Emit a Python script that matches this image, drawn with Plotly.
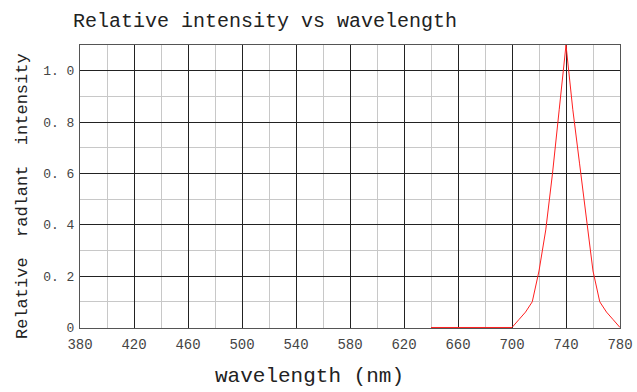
import plotly.graph_objects as go

wavelength = [640, 700, 705, 710, 715, 720, 725, 730, 735, 738, 740, 742, 745, 750, 755, 760, 765, 770, 775, 780]
intensity = [0, 0, 0.03, 0.06, 0.1, 0.22, 0.38, 0.6, 0.85, 1.0, 1.1, 1.0, 0.85, 0.64, 0.42, 0.22, 0.1, 0.06, 0.03, 0]

x_ticks = [380, 420, 460, 500, 540, 580, 620, 660, 700, 740, 780]
y_ticks = [0, 0.2, 0.4, 0.6, 0.8, 1.0]
y_tick_text = ["0", "0. 2", "0. 4", "0. 6", "0. 8", "1. 0"]

FONT = "Liberation Mono"
L, R, T, B = 80, 17, 45, 64
PW, PH = 637 - L - R, 392 - T - B

fig = go.Figure()
fig.add_trace(go.Scatter(x=wavelength, y=intensity, mode="lines",
                         line=dict(color="#ff2020", width=1), showlegend=False,
                         cliponaxis=False))

fig.update_layout(
    width=637, height=392,
    margin=dict(l=L, r=R, t=T, b=B, autoexpand=False),
    paper_bgcolor="white", plot_bgcolor="white",
    font=dict(family=FONT, color="#333"),
)
fig.update_xaxes(
    range=[380, 780], tickvals=x_ticks, ticktext=[str(v) for v in x_ticks],
    showgrid=True, gridcolor="#222", gridwidth=1,
    minor=dict(dtick=20, tick0=380, showgrid=True, gridcolor="#c8c8c8", gridwidth=1),
    showline=True, linecolor="#555", linewidth=1, mirror=True, layer="below traces",
    ticks="", tickfont=dict(family=FONT, size=14, color="#444"), zeroline=False,
    automargin=False, ticklabelstandoff=3,
)
fig.update_yaxes(
    range=[-0.002, 1.1], tickvals=y_ticks, ticktext=y_tick_text,
    showgrid=True, gridcolor="#222", gridwidth=1,
    minor=dict(dtick=0.1, tick0=0, showgrid=True, gridcolor="#c8c8c8", gridwidth=1),
    showline=True, linecolor="#555", linewidth=1, mirror=True, layer="below traces",
    ticks="", tickfont=dict(family=FONT, size=13, color="#444"), zeroline=False,
    ticklabelstandoff=2, automargin=False,
)

fig.add_annotation(text="Relative intensity vs wavelength", xref="paper", yref="paper",
                   x=(265 - L) / PW, y=1 + (T - 21) / PH, xanchor="center", yanchor="middle",
                   showarrow=False, font=dict(family=FONT, size=20, color="#222"))
fig.add_annotation(text="wavelength (nm)", xref="paper", yref="paper",
                   x=(309 - L) / PW, y=-(376 - (392 - B)) / PH, xanchor="center", yanchor="middle",
                   showarrow=False, font=dict(family=FONT, size=21, color="#222"))
fig.add_annotation(text="Relative  radlant  intensity", xref="paper", yref="paper",
                   x=-(L - 22) / PW, y=((392 - B) - 196) / PH, xanchor="center", yanchor="middle",
                   textangle=-90, showarrow=False, font=dict(family=FONT, size=17, color="#222"))

fig.write_html("out.html", config={"displayModeBar": False},
               post_script="document.body.style.margin='0';document.body.style.overflow='hidden';")
